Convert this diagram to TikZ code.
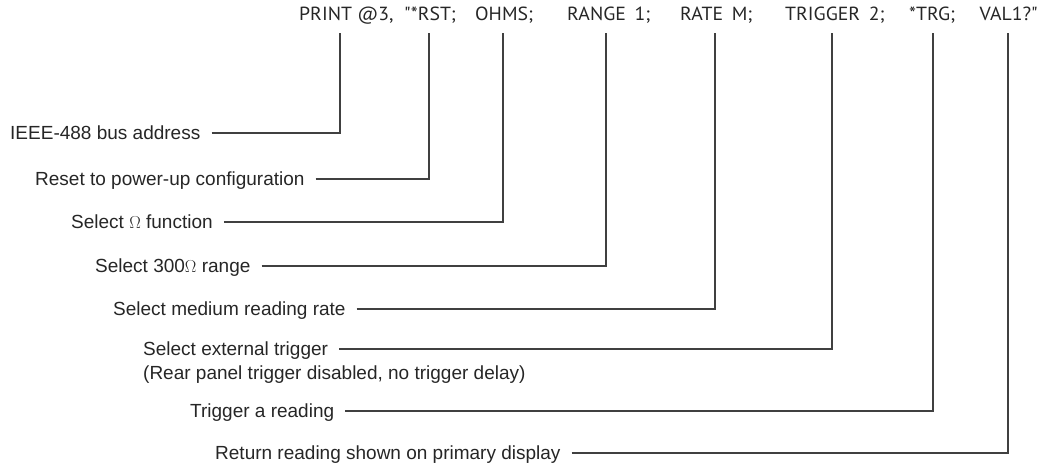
\documentclass[tikz,border=0pt]{standalone}
\usepackage{fontspec}
\setmainfont{Liberation Sans}
\newfontfamily\cmdfont[FakeStretch=1.04]{PT Sans}
\usetikzlibrary{positioning}
\tikzstyle{cmd} = [anchor=base west, inner sep=0pt, font=\cmdfont\fontsize{19}{22}\selectfont, text=black!85]
\tikzstyle{note} = [anchor=west, inner sep=0pt, text height=13.6pt, text depth=0pt, font=\fontsize{19}{22}\selectfont, text=black!85]
\tikzstyle{wire} = [line width=1.1pt, draw=black!75]

\begin{document}
\begin{tikzpicture}[x=1pt, y=-1pt]
    \useasboundingbox (0,0) rectangle (1041,468);
    % Place command parts
    \node (print) [cmd] at (299,21) {PRINT @3,};
    \node (rst) [cmd] at (404,21) {"*RST;};
    \node (ohms) [cmd] at (475,21) {OHMS;};
    \node (range) [cmd] at (567,21) {RANGE\hspace{0.45em}1;};
    \node (rate) [cmd] at (680,21) {RATE\hspace{0.45em}M;};
    \node (trigger) [cmd] at (785,21) {TRIGGER\hspace{0.45em}2;};
    \node (trg) [cmd] at (909,21) {*TRG;};
    \node (val) [cmd, anchor=base east] at (1038,21) {VAL1?"};

    % Wire tips under the command parts
    \coordinate (addr) at (340,33);
    \coordinate (reset) at (429,33);
    \coordinate (func) at (503,33);
    \coordinate (rng) at (606,33);
    \coordinate (rt) at (715,33);
    \coordinate (trig) at (832,33);
    \coordinate (fire) at (933,33);
    \coordinate (read) at (1008,33);

    % Place notes
    \node (bus) [note] at (10,133) {IEEE-488 bus address};
    \node (power) [note] at (35,179) {Reset to power-up configuration};
    \node (ohmfn) [note] at (71,222) {Select $\Omega$ function};
    \node (ohmrng) [note] at (95,266) {Select 300$\Omega$ range};
    \node (medium) [note] at (113,309) {Select medium reading rate};
    \node (external) [note] at (143,349) {Select external trigger};
    \node (rear) [note] at (143,373) {(Rear panel trigger disabled, no trigger delay)};
    \node (onetrig) [note] at (190,411) {Trigger a reading};
    \node (primary) [note] at (215,453) {Return reading shown on primary display};

    % Connect notes to command parts
    \draw [wire] ([xshift=11pt]bus.east) -| (addr);
    \draw [wire] ([xshift=11pt]power.east) -| (reset);
    \draw [wire] ([xshift=11pt]ohmfn.east) -| (func);
    \draw [wire] ([xshift=11pt]ohmrng.east) -| (rng);
    \draw [wire] ([xshift=11pt]medium.east) -| (rt);
    \draw [wire] ([xshift=11pt]external.east) -| (trig);
    \draw [wire] ([xshift=11pt]onetrig.east) -| (fire);
    \draw [wire] ([xshift=11pt]primary.east) -| (read);
\end{tikzpicture}
\end{document}
